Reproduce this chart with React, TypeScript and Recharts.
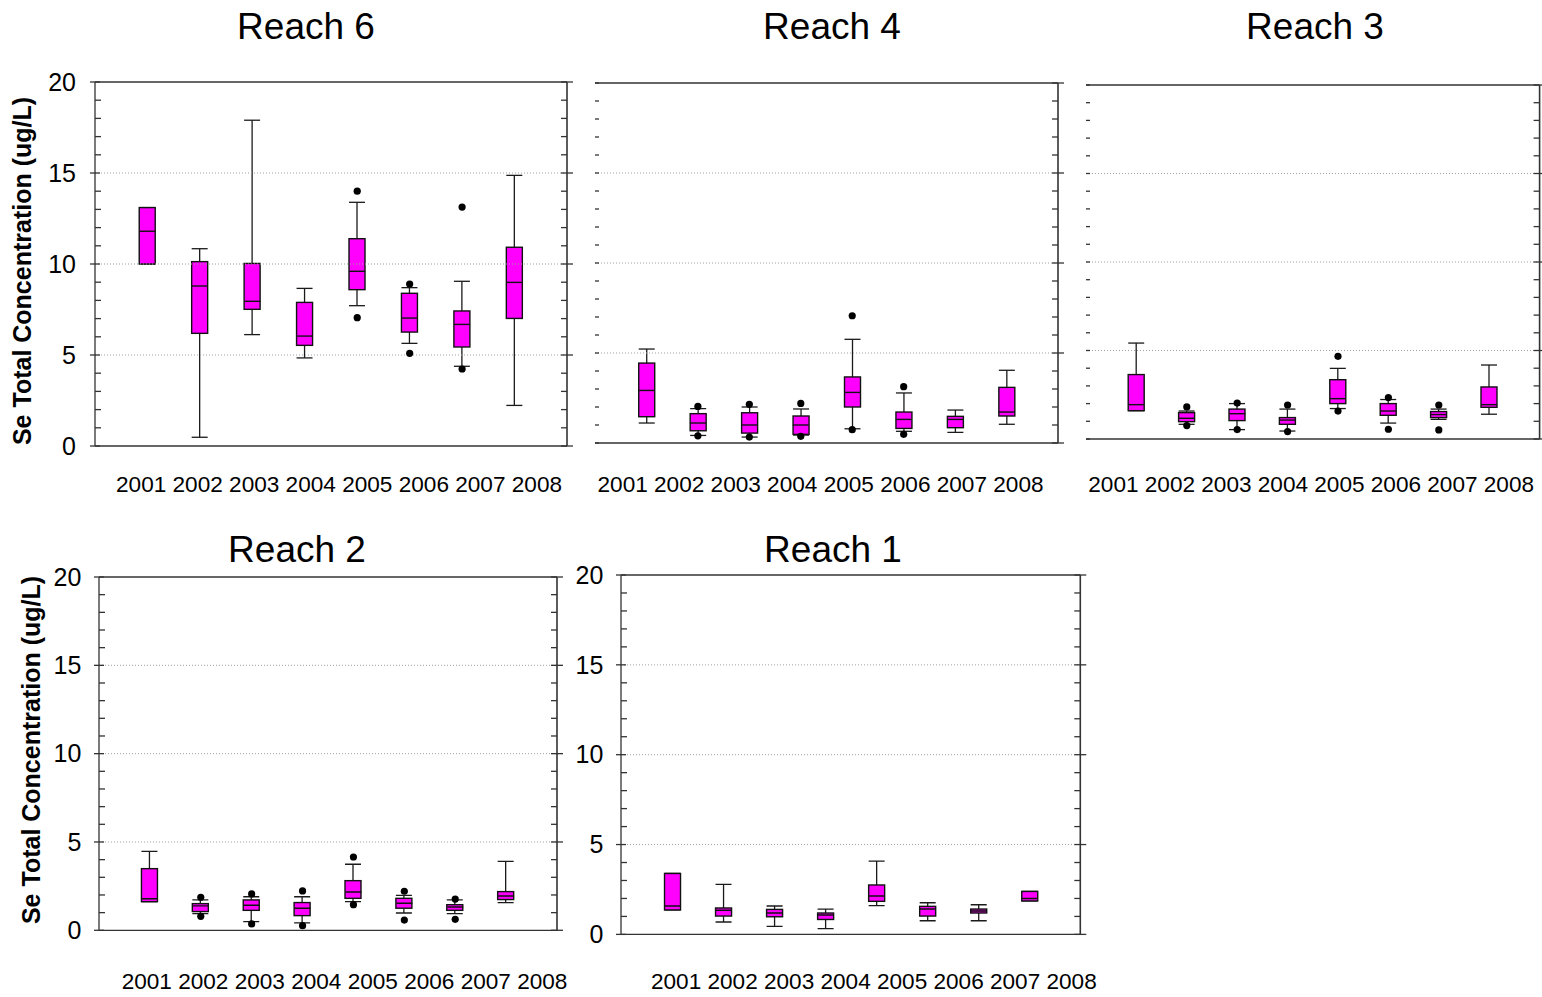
import React from 'react';
import { ComposedChart, Bar, Scatter, XAxis, YAxis, ReferenceLine, Label } from 'recharts';

const FONT = '"Liberation Sans", Arial, Helvetica, sans-serif';
const AXIS = '#333333';
const BOX_FILL = '#ff00ff';
const BOX_W = 16;

const years = ['2001', '2002', '2003', '2004', '2005', '2006', '2007', '2008'];
const yTicks = [0, 1, 2, 3, 4, 5, 6, 7, 8, 9, 10, 11, 12, 13, 14, 15, 16, 17, 18, 19, 20];
const gridValues = [5, 10, 15];
const yTitle = 'Se Total Concentration (ug/L)';

// Reach 6
const reach6Min = [10.0, 0.48, 6.12, 4.84, 7.71, 5.64, 4.38, 2.23];
const reach6Q1 = [10.0, 6.19, 7.51, 5.53, 8.59, 6.26, 5.44, 7.01];
const reach6Med = [11.8, 8.79, 7.95, 6.04, 9.6, 7.03, 6.68, 8.99];
const reach6Q3 = [13.1, 10.13, 10.03, 7.89, 11.39, 8.39, 7.42, 10.92];
const reach6Max = [13.1, 10.84, 17.9, 8.66, 13.39, 8.7, 9.05, 14.87];
const reach6OutYears = ['2005', '2005', '2006', '2006', '2007', '2007'];
const reach6OutValues = [14.0, 7.05, 8.9, 5.09, 13.13, 4.23];

// Reach 4
const reach4Min = [1.11, 0.42, 0.33, 0.44, 0.79, 0.65, 0.59, 1.04];
const reach4Q1 = [1.46, 0.68, 0.55, 0.48, 2.0, 0.81, 0.85, 1.5];
const reach4Med = [2.92, 1.11, 1.0, 1.0, 2.81, 1.31, 1.31, 1.72];
const reach4Q3 = [4.44, 1.63, 1.68, 1.5, 3.67, 1.72, 1.48, 3.09];
const reach4Max = [5.22, 1.91, 2.0, 1.89, 5.76, 2.78, 1.83, 4.04];
const reach4OutYears = ['2002', '2002', '2003', '2003', '2004', '2004', '2005', '2005', '2006', '2006'];
const reach4OutValues = [2.03, 0.4, 2.15, 0.33, 2.2, 0.37, 7.07, 0.74, 3.13, 0.48];

// Reach 3
const reach3Min = [1.6, 0.83, 0.53, 0.45, 1.72, 0.9, 1.11, 1.4];
const reach3Q1 = [1.6, 0.98, 1.04, 0.83, 2.0, 1.34, 1.21, 1.79];
const reach3Med = [1.94, 1.17, 1.43, 1.07, 2.28, 1.58, 1.38, 1.94];
const reach3Q3 = [3.64, 1.49, 1.69, 1.21, 3.35, 2.0, 1.55, 2.94];
const reach3Max = [5.42, 1.58, 2.0, 1.69, 3.99, 2.23, 1.69, 4.18];
const reach3OutYears = ['2002', '2002', '2003', '2003', '2004', '2004', '2005', '2005', '2006', '2006', '2007', '2007'];
const reach3OutValues = [1.81, 0.76, 2.03, 0.53, 1.92, 0.42, 4.67, 1.58, 2.34, 0.55, 1.92, 0.51];

// Reach 2
const reach2Min = [1.62, 0.94, 0.49, 0.42, 1.62, 0.98, 0.94, 1.57];
const reach2Q1 = [1.62, 1.06, 1.13, 0.83, 1.81, 1.25, 1.13, 1.74];
const reach2Med = [1.79, 1.38, 1.42, 1.25, 2.17, 1.53, 1.32, 1.94];
const reach2Q3 = [3.49, 1.51, 1.72, 1.57, 2.81, 1.81, 1.45, 2.19];
const reach2Max = [4.47, 1.72, 1.9, 1.9, 3.74, 1.98, 1.72, 3.9];
const reach2OutYears = ['2002', '2002', '2003', '2003', '2004', '2004', '2005', '2005', '2006', '2006', '2007', '2007'];
const reach2OutValues = [1.87, 0.79, 2.06, 0.36, 2.23, 0.26, 4.15, 1.45, 2.21, 0.58, 1.77, 0.62];

// Reach 1
const reach1Min = [1.36, 0.69, 0.45, 0.32, 1.6, 0.76, 0.76, 1.86];
const reach1Q1 = [1.36, 1.02, 0.98, 0.83, 1.84, 1.02, 1.19, 1.86];
const reach1Med = [1.58, 1.34, 1.19, 1.08, 2.14, 1.41, 1.3, 2.0];
const reach1Q3 = [3.39, 1.47, 1.39, 1.19, 2.75, 1.56, 1.41, 2.39];
const reach1Max = [3.39, 2.78, 1.58, 1.41, 4.08, 1.76, 1.65, 2.39];
const reach1OutYears: string[] = [];
const reach1OutValues: number[] = [];

function buildRows(min: number[], q1: number[], med: number[], q3: number[], max: number[]) {
  return years.map((year, i) => ({
    year,
    whisker: [min[i], max[i]],
    box: [q1[i], q3[i]],
    med: med[i],
  }));
}

function buildOutliers(ys: string[], vs: number[]) {
  return ys.map((year, i) => ({ year, value: vs[i] }));
}

type PanelCfg = {
  id: string;
  title: string;
  titleX: number;
  titleY: number;
  plot: { x: number; y: number; w: number; h: number };
  rows: any[];
  outliers: any[];
  leftLine: boolean;
  leftLabels: boolean;
  labelGap: number;
  yearsDx: number;
  yearsDy: number;
  yTitlePos?: { x: number; y: number };
};

const panels: PanelCfg[] = [
  {
    id: 'r6', title: 'Reach 6', titleX: 306, titleY: 39,
    plot: { x: 95, y: 82, w: 472, h: 364 },
    rows: buildRows(reach6Min, reach6Q1, reach6Med, reach6Q3, reach6Max),
    outliers: buildOutliers(reach6OutYears, reach6OutValues),
    leftLine: true, leftLabels: true, labelGap: 19, yearsDx: 21, yearsDy: 46,
    yTitlePos: { x: 31, y: 271 },
  },
  {
    id: 'r4', title: 'Reach 4', titleX: 832, titleY: 39,
    plot: { x: 595, y: 83.3, w: 463, h: 360 },
    rows: buildRows(reach4Min, reach4Q1, reach4Med, reach4Q3, reach4Max),
    outliers: buildOutliers(reach4OutYears, reach4OutValues),
    leftLine: false, leftLabels: false, labelGap: 18, yearsDx: 2.5, yearsDy: 48.7,
  },
  {
    id: 'r3', title: 'Reach 3', titleX: 1315, titleY: 39,
    plot: { x: 1085.7, y: 84.7, w: 453.6, h: 354 },
    rows: buildRows(reach3Min, reach3Q1, reach3Med, reach3Q3, reach3Max),
    outliers: buildOutliers(reach3OutYears, reach3OutValues),
    leftLine: false, leftLabels: false, labelGap: 18, yearsDx: 2.3, yearsDy: 53.3,
  },
  {
    id: 'r2', title: 'Reach 2', titleX: 297, titleY: 562,
    plot: { x: 99.3, y: 576.7, w: 458, h: 353.3 },
    rows: buildRows(reach2Min, reach2Q1, reach2Med, reach2Q3, reach2Max),
    outliers: buildOutliers(reach2OutYears, reach2OutValues),
    leftLine: true, leftLabels: true, labelGap: 17.6, yearsDx: 22.7, yearsDy: 59,
    yTitlePos: { x: 40, y: 750 },
  },
  {
    id: 'r1', title: 'Reach 1', titleX: 833, titleY: 562,
    plot: { x: 620.7, y: 575.3, w: 459.3, h: 359.4 },
    rows: buildRows(reach1Min, reach1Q1, reach1Med, reach1Q3, reach1Max),
    outliers: buildOutliers(reach1OutYears, reach1OutValues),
    leftLine: true, leftLabels: true, labelGap: 17.7, yearsDx: 30, yearsDy: 54.3,
  },
];

function makeTick(side: 'left' | 'right', inner: boolean, showLabel: boolean, gap: number) {
  return (props: any) => {
    const { x, y, payload } = props;
    const v = Number(payload.value);
    const major = v % 5 === 0;
    let x1: number;
    let x2: number;
    if (side === 'left') {
      if (inner) { x1 = x; x2 = x + 4; }
      else if (major) { x1 = x - 5; x2 = x + 5; }
      else { x1 = x; x2 = x + 6; }
    } else {
      if (major) { x1 = x - 6; x2 = x + 6; }
      else { x1 = x - 6; x2 = x; }
    }
    return (
      <g>
        <line x1={x1} x2={x2} y1={y} y2={y} stroke={AXIS} strokeWidth={1.3} />
        {showLabel && major ? (
          <text x={x - gap} y={y} dy="0.35em" textAnchor="end" fontSize={25} fontFamily={FONT} fill="#000">
            {v}
          </text>
        ) : null}
      </g>
    );
  };
}

const WhiskerShape = (props: any) => {
  const { x, y, width, height } = props;
  if (x == null || y == null) return null;
  const cx = x + width / 2;
  return (
    <g>
      <line x1={cx} x2={cx} y1={y} y2={y + height} stroke="#1a1a1a" strokeWidth={1.3} />
      <line x1={x} x2={x + width} y1={y} y2={y} stroke="#1a1a1a" strokeWidth={1.3} />
      <line x1={x} x2={x + width} y1={y + height} y2={y + height} stroke="#1a1a1a" strokeWidth={1.3} />
    </g>
  );
};

const BoxShape = (props: any) => {
  const { x, y, width, height } = props;
  if (x == null || y == null) return null;
  return <rect x={x} y={y} width={width} height={Math.max(height, 0.5)} fill={BOX_FILL} stroke="#111" strokeWidth={1.4} />;
};

const MedianShape = (props: any) => {
  const { cx, cy } = props;
  if (cx == null || cy == null) return null;
  return <line x1={cx - BOX_W / 2} x2={cx + BOX_W / 2} y1={cy} y2={cy} stroke="#111" strokeWidth={1.4} />;
};

const OutlierShape = (props: any) => {
  const { cx, cy } = props;
  if (cx == null || cy == null) return null;
  return <circle cx={cx} cy={cy} r={3.6} fill="#000" />;
};

function BoxPanel({ cfg }: { cfg: PanelCfg }) {
  const { plot, rows, outliers } = cfg;
  const ML = 90;
  const MR = 12;
  const MT = 24;
  const MB = 70;
  const EXTRA_R = 40;
  const pad = plot.w / 18;
  const yearsText = years.join(' ');
  const yearsLabel = (p: any) => {
    const vb = p.viewBox || {};
    return (
      <text x={(vb.x ?? 0) + cfg.yearsDx} y={(vb.y ?? 0) + cfg.yearsDy} fontSize={22.6} fontFamily={FONT} fill="#000">
        {yearsText}
      </text>
    );
  };
  return (
    <div style={{ position: 'absolute', left: plot.x - ML, top: plot.y - MT }}>
      <ComposedChart
        width={plot.w + ML + MR + EXTRA_R}
        height={plot.h + MT + MB}
        data={rows}
        margin={{ top: MT, right: EXTRA_R, bottom: 0, left: 0 }}
      >
        <XAxis
          dataKey="year"
          type="category"
          allowDuplicatedCategory={false}
          padding={{ left: pad, right: pad }}
          height={MB}
          tick={false}
          tickLine={false}
          axisLine={{ stroke: AXIS, strokeWidth: 1.3 }}
        >
          <Label content={yearsLabel} />
        </XAxis>
        <XAxis
          xAxisId="w"
          dataKey="year"
          type="category"
          allowDuplicatedCategory={false}
          padding={{ left: pad, right: pad }}
          hide
        />
        <YAxis
          type="number"
          domain={[0, 20]}
          ticks={yTicks}
          interval={0}
          allowDataOverflow
          width={ML}
          tickSize={0}
          tickMargin={0}
          tickLine={false}
          axisLine={cfg.leftLine ? { stroke: AXIS, strokeWidth: 1.3 } : false}
          tick={makeTick('left', !cfg.leftLine, cfg.leftLabels, cfg.labelGap)}
        />
        <YAxis
          yAxisId="r"
          orientation="right"
          type="number"
          domain={[0, 20]}
          ticks={yTicks}
          interval={0}
          allowDataOverflow
          width={MR}
          tickSize={0}
          tickMargin={0}
          tickLine={false}
          axisLine={{ stroke: AXIS, strokeWidth: 1.6 }}
          tick={makeTick('right', false, false, 0)}
        />
        {gridValues.map((g) => (
          <ReferenceLine key={g} y={g} stroke="#a0a0a0" strokeDasharray="1 2" strokeWidth={1} />
        ))}
        <ReferenceLine y={20} stroke={AXIS} strokeWidth={1.3} />
        <Bar xAxisId="w" dataKey="whisker" barSize={BOX_W} shape={WhiskerShape} isAnimationActive={false} />
        <Bar dataKey="box" barSize={BOX_W} shape={BoxShape} isAnimationActive={false} />
        <Scatter dataKey="med" shape={MedianShape} isAnimationActive={false} />
        <Scatter data={outliers} dataKey="value" shape={OutlierShape} isAnimationActive={false} />
      </ComposedChart>
    </div>
  );
}

export default function App() {
  return (
    <div style={{ position: 'absolute', left: 0, top: 0, width: 1542, height: 997, background: '#fff', fontFamily: FONT, overflow: 'hidden' }}>
      {panels.map((p) => (
        <BoxPanel key={p.id} cfg={p} />
      ))}
      <svg
        width={1542}
        height={997}
        style={{ position: 'absolute', left: 0, top: 0, pointerEvents: 'none' }}
      >
        {panels.map((p) => (
          <text key={p.id + 't'} x={p.titleX} y={p.titleY} textAnchor="middle" fontSize={37} fontFamily={FONT} fill="#000">
            {p.title}
          </text>
        ))}
        {panels
          .filter((p) => p.yTitlePos)
          .map((p) => (
            <text
              key={p.id + 'y'}
              x={p.yTitlePos!.x}
              y={p.yTitlePos!.y}
              transform={`rotate(-90 ${p.yTitlePos!.x} ${p.yTitlePos!.y})`}
              textAnchor="middle"
              fontSize={25}
              fontWeight="bold"
              fontFamily={FONT}
              fill="#000"
            >
              {yTitle}
            </text>
          ))}
      </svg>
    </div>
  );
}
